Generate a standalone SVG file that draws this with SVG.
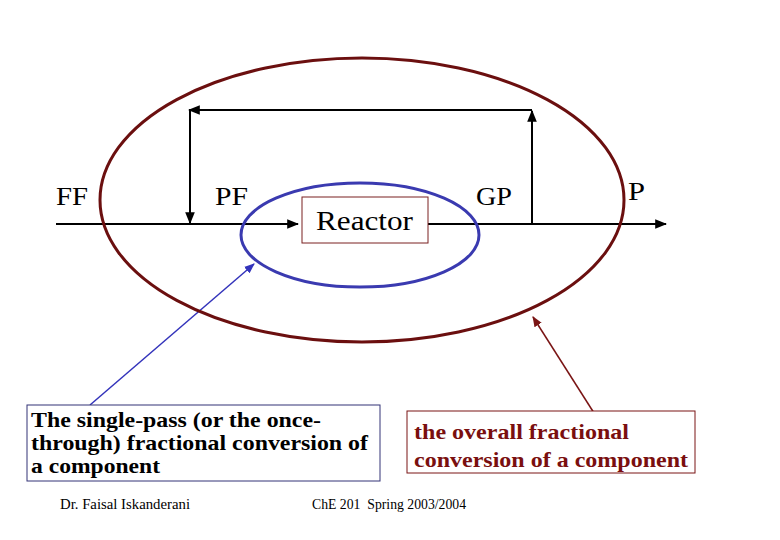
<svg xmlns="http://www.w3.org/2000/svg" width="780" height="540" viewBox="0 0 780 540">
<style>
.s{font-family:"Liberation Serif",serif;fill:#000}
.l{font-size:26px}
.b{font-size:21px;font-weight:bold}
.f{font-size:15px}
.k{stroke:#000;stroke-width:2;fill:none}
</style>
<defs>
<marker id="a" viewBox="0 0 10 10" refX="9" refY="5" markerWidth="6" markerHeight="6" orient="auto"><path d="M0,1L10,5L0,9z" fill="#000"/></marker>
<marker id="ab" viewBox="0 0 10 10" refX="9" refY="5" markerWidth="7" markerHeight="7" orient="auto"><path d="M0,1L10,5L0,9z" fill="#3333bb"/></marker>
<marker id="ar" viewBox="0 0 10 10" refX="9" refY="5" markerWidth="7" markerHeight="7" orient="auto"><path d="M0,1L10,5L0,9z" fill="#7a1515"/></marker>
</defs>
<rect width="780" height="540" fill="#fff"/>
<g id="connectors">
<line class="k" x1="56" y1="224" x2="298" y2="224" marker-end="url(#a)"/>
<line class="k" x1="428" y1="224" x2="666" y2="224" marker-end="url(#a)"/>
<line class="k" x1="532" y1="224" x2="532" y2="111" marker-end="url(#a)"/>
<line class="k" x1="532" y1="110" x2="189" y2="110" marker-end="url(#a)"/>
<line class="k" x1="190" y1="110" x2="190" y2="223" marker-end="url(#a)"/>
<line x1="90" y1="405" x2="254" y2="264" stroke="#3333bb" stroke-width="1.5" marker-end="url(#ab)"/>
<line x1="594" y1="413" x2="533" y2="317" stroke="#7a1515" stroke-width="1.5" marker-end="url(#ar)"/>
</g>
<g id="outer"><ellipse cx="362" cy="200" rx="262" ry="142" fill="none" stroke="#6b0f0f" stroke-width="3"/></g>
<g id="inner"><ellipse cx="360" cy="235" rx="119" ry="52" fill="none" stroke="#3a3ab0" stroke-width="3"/></g>
<g id="reactor"><rect x="302" y="197" width="126" height="46" fill="#fff" stroke="#7a2020" stroke-width="1"/><text class="s" x="316" y="230" font-size="28" textLength="97" lengthAdjust="spacingAndGlyphs">Reactor</text></g>
<g id="ff"><text class="s l" x="56" y="205" textLength="32" lengthAdjust="spacingAndGlyphs">FF</text></g>
<g id="pf"><text class="s l" x="215" y="205" textLength="33" lengthAdjust="spacingAndGlyphs">PF</text></g>
<g id="gp"><text class="s l" x="476" y="205" textLength="36" lengthAdjust="spacingAndGlyphs">GP</text></g>
<g id="p"><text class="s l" x="628" y="200" textLength="17" lengthAdjust="spacingAndGlyphs">P</text></g>
<g id="single"><rect x="27" y="405" width="353" height="76" fill="#fff" stroke="#333377" stroke-width="1"/>
<text class="s b" x="31" y="427" textLength="290" lengthAdjust="spacingAndGlyphs">The single-pass (or the once-</text>
<text class="s b" x="31" y="450" textLength="337" lengthAdjust="spacingAndGlyphs">through) fractional conversion of</text>
<text class="s b" x="31" y="473" textLength="129" lengthAdjust="spacingAndGlyphs">a component</text></g>
<g id="overall"><rect x="407" y="411" width="288" height="62" fill="#fff" stroke="#7a1515" stroke-width="1"/>
<text class="s b" x="414" y="439" style="fill:#7a0f0f" textLength="215" lengthAdjust="spacingAndGlyphs">the overall fractional</text>
<text class="s b" x="414" y="467" style="fill:#7a0f0f" textLength="274" lengthAdjust="spacingAndGlyphs">conversion of a component</text></g>
<g id="footer"><text class="s f" x="60" y="509" textLength="130" lengthAdjust="spacingAndGlyphs">Dr. Faisal Iskanderani</text><text class="s f" x="312" y="509" xml:space="preserve" textLength="154" lengthAdjust="spacingAndGlyphs">ChE 201  Spring 2003/2004</text></g>
</svg>
